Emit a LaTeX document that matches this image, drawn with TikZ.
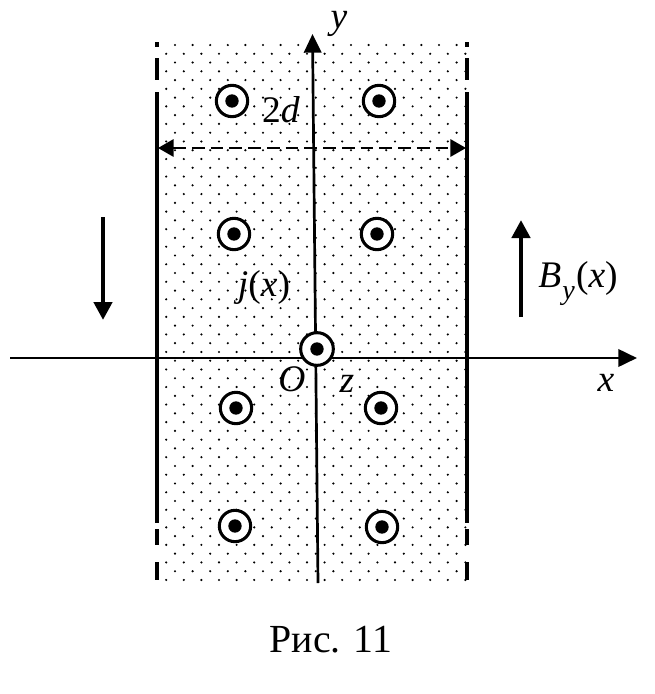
\documentclass[tikz,border=0pt]{standalone}
\usepackage{fontspec}
\setmainfont{Liberation Serif}
\usetikzlibrary{arrows.meta}
\begin{document}
\begin{tikzpicture}[x=0.03cm,y=-0.03cm,
  curr/.style={circle,draw,fill=white,line width=2.6pt,minimum size=0.94cm,inner sep=0pt,
    path picture={\fill[black] (path picture bounding box.center) circle (0.2cm);}},
  wall/.style={line width=3.8pt},
  axis/.style={line width=2.3pt,-{Triangle[length=0.56cm,width=0.52cm]}},
  bigarrow/.style={line width=3.8pt,-{Triangle[length=0.54cm,width=0.54cm]}},
  lbl/.style={inner sep=0pt,font=\fontsize{32}{38}\selectfont}]
\useasboundingbox (0,0) rectangle (655,694);
% dotted field
\foreach \j in {0,...,61}{
  \pgfmathsetmacro{\yy}{45+8.77*\j}
  \pgfmathsetmacro{\xs}{mod(\j,2)==0 ? 175 : 166.2}
  \pgfmathtruncatemacro{\nn}{mod(\j,2)==0 ? 16 : 17}
  \foreach \k in {0,...,\nn} \fill (\xs+17.6*\k,\yy) circle (0.036cm);
}
% walls
\foreach \xw in {157,467}{
  \draw[wall] (\xw,42) -- (\xw,47);
  \draw[wall] (\xw,58) -- (\xw,80);
  \draw[wall] (\xw,92) -- (\xw,523);
  \draw[wall] (\xw,529) -- (\xw,545);
  \draw[wall] (\xw,562) -- (\xw,580);
}
% axes
\coordinate (xs) at (10,358);
\coordinate (xe) at (637,358);
\coordinate (ys) at (318,583);
\coordinate (ye) at (312.5,34);
\draw[axis] (xs) -- (xe);
\draw[axis] (ys) -- (ye);
% width arrow
\coordinate (wl) at (158,148);
\coordinate (wr) at (466,148);
\draw[line width=2pt,dash pattern=on 11pt off 5pt,{Triangle[length=0.47cm,width=0.52cm]}-{Triangle[length=0.47cm,width=0.52cm]}] (wl) -- (wr);
% currents
\node[curr] (c1) at (232,101) {};
\node[curr] (c2) at (379,101) {};
\node[curr] (c3) at (234,234) {};
\node[curr] (c4) at (377,234) {};
\node[curr] (c5) at (236,408) {};
\node[curr] (c6) at (381,408) {};
\node[curr] (c7) at (235,526) {};
\node[curr] (c8) at (382,527) {};
\node[curr,minimum size=0.98cm] (c0) at (317,349) {};
% side arrows
\coordinate (ja) at (103,217);
\coordinate (jb) at (103,320);
\draw[bigarrow] (ja) -- (jb);
\coordinate (ba) at (521,317);
\coordinate (bb) at (521,220);
\draw[bigarrow] (ba) -- (bb);
% labels
\node[lbl] (ly) at (339,24) {\textit{y}};
\node[lbl] (l2d) at (281,110) {2\textit{d}};
\node[lbl] (lj) at (264,287) {\textit{j}(\textit{x})};
\node[lbl] (lB) at (578,284) {\textit{B}\kern1pt\raisebox{-0.32em}{\fontsize{24}{24}\selectfont\textit{y}}\kern1pt(\textit{x})};
\node[lbl] (lO) at (292,379) {\textit{O}};
\node[lbl] (lz) at (347,384) {\textit{z}};
\node[lbl] (lx) at (606,383) {\textit{x}};
\node[inner sep=0pt,font=\fontsize{34}{40}\selectfont] (cap) at (331,640) {Рис. 11};
\end{tikzpicture}
\end{document}
